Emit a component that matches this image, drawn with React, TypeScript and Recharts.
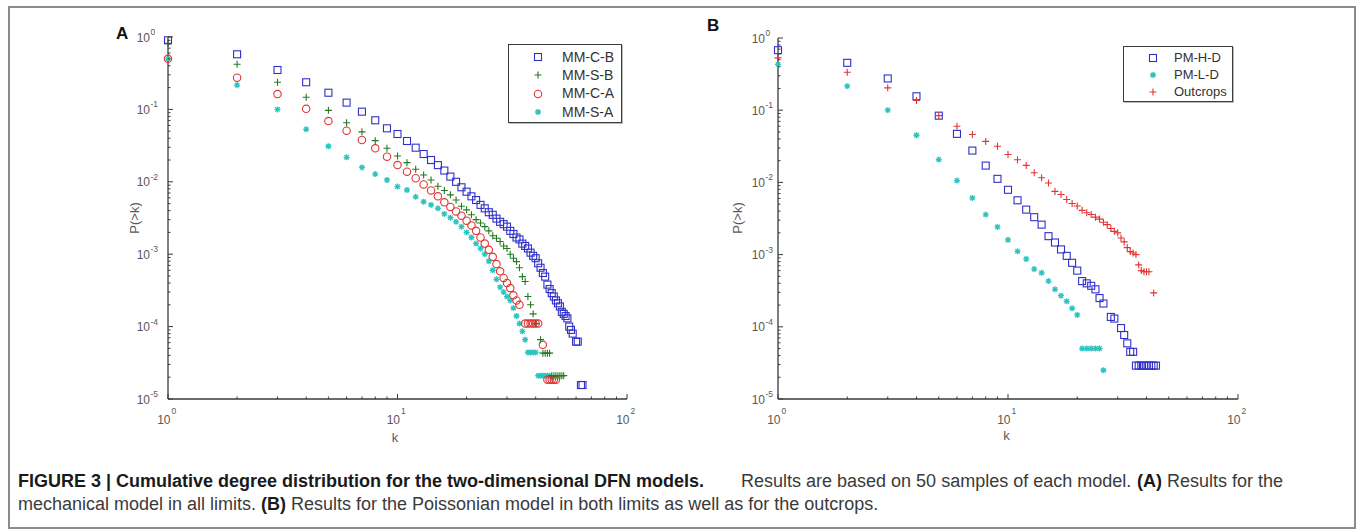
import React from 'react';
import { ScatterChart, Scatter, XAxis, YAxis } from 'recharts';

// ---------------- Panel A data (mechanical model) ----------------
const mmcbK = [1,2,3,4,5,6,7,8,9,10,11,12,13,14,15,16,17,18,19,20,21,22,23,24,25,26,27,28,29,30,31,32,33,34,35,36,37,38,39,40,41,42,43,44,45,46,47,48,49,50,51,52,53,54,55,56,57,58,60,61,63,64];
const mmcbP = [0.9,0.577,0.35,0.237,0.17,0.124,0.093,0.0707,0.0548,0.0457,
  0.0366,0.0296,0.0242,0.02,0.017,0.0143,0.0118,0.01,0.0084,0.0073,
  0.0063,0.0056,0.0048,0.0043,0.0038,0.0035,0.0031,0.0028,0.0026,0.0024,
  0.0021,0.0019,0.0017,0.0016,0.0014,0.0013,0.0012,0.00105,0.00095,0.00088,
  0.00075,0.00065,0.00055,0.00049,0.00038,0.00033,0.00029,0.00026,0.00023,0.00021,
  0.00019,0.00016,0.00015,0.00014,0.00013,0.0001,0.00009,0.00008,
  0.000062,0.000062,0.0000156,0.0000156];

const mmsbK = [1,2,3,4,5,6,7,8,9,10,11,12,13,14,15,16,17,18,19,20,21,22,23,24,25,26,27,28,29,30,31,32,33,34,35,36,37,38,39,40,42,43,44,45,46,47,48,49,50,51,52,53];
const mmsbP = [0.82,0.42,0.237,0.147,0.097,0.0655,0.049,0.037,0.029,0.0227,
  0.0184,0.0149,0.0124,0.0106,0.0087,0.0076,0.0066,0.0056,0.0046,0.0041,
  0.0035,0.003,0.0027,0.0024,0.0021,0.0018,0.00166,0.0015,0.0013,0.0012,
  0.001,0.00088,0.00079,0.00065,0.00049,0.00042,0.00026,0.0002,0.00015,0.00011,
  0.000066,0.000043,0.000043,0.000043,0.000043,
  0.000021,0.000021,0.000021,0.000021,0.000021,0.000021,0.000021];

const mmcaK = [1,2,3,4,5,6,7,8,9,10,11,12,13,14,15,16,17,18,19,20,21,22,23,24,25,26,27,28,29,30,31,32,33,34,36,37,38,39,40,41,43,45,46,47,48,49];
const mmcaP = [0.5,0.274,0.163,0.102,0.069,0.0508,0.0378,0.029,0.0222,0.017,
  0.0138,0.0112,0.0092,0.0076,0.0063,0.0052,0.0045,0.0039,0.0034,0.0029,
  0.0025,0.0021,0.0017,0.0014,0.00115,0.00092,0.00073,0.00058,0.00047,0.0004,
  0.00034,0.00027,0.00023,0.0002,
  0.00011,0.00011,0.00011,0.00011,0.00011,0.00011,
  0.000056,
  0.0000185,0.0000185,0.0000185,0.0000185,0.0000185];

const mmsaK = [1,2,3,4,5,6,7,8,9,10,11,12,13,14,15,16,17,18,19,20,21,22,23,24,25,26,27,28,29,30,31,32,33,34,35,36,37,38,39,40,41,42,43,44,45,46];
const mmsaP = [0.5,0.217,0.1,0.053,0.031,0.0218,0.0158,0.0128,0.0106,0.0086,
  0.0077,0.0062,0.0053,0.0048,0.0043,0.0036,0.0032,0.0028,0.0024,0.002,
  0.0017,0.0014,0.0012,0.001,0.0008,0.0006,0.00045,0.00035,0.0003,0.00026,
  0.00023,0.00018,0.00014,0.00011,0.000086,0.000066,
  0.000044,0.000044,0.000044,0.000044,
  0.000021,0.000021,0.000021,0.000021,0.000021,0.000021];

// ---------------- Panel B data (Poissonian model, outcrops) ----------------
const pmhdK = [1,2,3,4,5,6,7,8,9,10,11,12,13,14,15,16,17,18,19,20,21,22,23,24,25,26,28,29,31,32,33,34,35,36,37,38,39,40,41,42,43,44];
const pmhdP = [0.678,0.453,0.275,0.156,0.084,0.047,0.0276,0.0171,0.0112,0.0079,
  0.00565,0.0042,0.0033,0.0026,0.0018,0.00147,0.00118,0.00096,0.00077,0.0006,
  0.00043,0.0004,0.00037,0.00033,0.00025,0.00021,
  0.000137,0.00013,
  0.000096,0.000077,0.000059,0.000045,0.000045,
  0.000029,0.000029,0.000029,0.000029,0.000029,0.000029,0.000029,0.000029,0.000029];

const pmldK = [1,2,3,4,5,6,7,8,9,10,11,12,13,14,15,16,17,18,19,20,21,22,23,24,25,26];
const pmldP = [0.43,0.215,0.1,0.045,0.0207,0.0106,0.0061,0.00358,0.00242,0.0016,
  0.00111,0.00087,0.00063,0.00056,0.00043,0.00033,0.00027,0.000225,0.00018,0.000146,
  0.00005,0.00005,0.00005,0.00005,0.00005,
  0.000025];

const outK = [1,2,3,4,5,6,7,8,9,10,11,12,13,14,15,16,17,18,19,20,21,22,23,24,25,26,27,28,29,30,31,32,33,34,35,36,37,38,39,40,41,43];
const outP = [0.53,0.336,0.204,0.136,0.084,0.06,0.046,0.037,0.0316,0.0243,
  0.0206,0.0172,0.0136,0.0116,0.0098,0.0075,0.0068,0.0058,0.0051,0.0047,
  0.0041,0.0038,0.0036,0.0033,0.0031,0.0028,0.0026,0.0023,0.0021,0.002,
  0.0017,0.0015,0.00125,0.0011,0.00105,0.001,0.00072,0.0006,0.00058,0.00058,
  0.00058,0.000295];

// ---------------- axis ticks ----------------
const X_MAJOR = [1, 10, 100];
const Y_MAJOR = [0.00001, 0.0001, 0.001, 0.01, 0.1, 1];
const MINOR_MULT = [2, 3, 4, 5, 6, 7, 8, 9];
const withMinor = (majors: number[]) => {
  const out: number[] = [];
  majors.forEach((m, i) => {
    out.push(m);
    if (i < majors.length - 1) MINOR_MULT.forEach((f) => out.push(+(m * f).toPrecision(6)));
  });
  return out;
};
const X_TICKS = withMinor(X_MAJOR);
const Y_TICKS = withMinor(Y_MAJOR);

// ---------------- styles ----------------
const FONT = "Arial, 'Liberation Sans', Helvetica, sans-serif";
const AXIS = '#3a3a3a';
const TICK_TEXT = '#585858';
const BLUE = '#3030c8';
const GREEN = '#237a23';
const RED = '#e23434';
const CYAN = '#2cc4c0';

const rows = (ks: number[], ps: number[]) => ks.map((k, i) => ({ k, p: ps[i] }));

// ---------------- markers ----------------
const Square = ({ cx, cy, color }: any) => (
  <rect x={cx - 3.5} y={cy - 3.5} width={7} height={7} fill="none" stroke={color} strokeWidth={1.1} />
);
const Plus = ({ cx, cy, color }: any) => (
  <path d={`M${cx - 3.5},${cy}H${cx + 3.5}M${cx},${cy - 3.5}V${cy + 3.5}`} stroke={color} strokeWidth={1.1} fill="none" />
);
const Circ = ({ cx, cy, color }: any) => (
  <circle cx={cx} cy={cy} r={3.7} fill="none" stroke={color} strokeWidth={1.1} />
);
const Star = ({ cx, cy, color }: any) => (
  <path
    d={`M${cx - 3},${cy}H${cx + 3}M${cx},${cy - 3}V${cy + 3}M${cx - 2.2},${cy - 2.2}L${cx + 2.2},${cy + 2.2}M${cx - 2.2},${cy + 2.2}L${cx + 2.2},${cy - 2.2}`}
    stroke={color}
    strokeWidth={1.3}
    fill="none"
  />
);
const MARKERS: Record<string, any> = { square: Square, plus: Plus, circle: Circ, star: Star };

type Series = { name: string; data: { k: number; p: number }[]; color: string; marker: string };

const seriesA: Series[] = [
  { name: 'MM-C-B', data: rows(mmcbK, mmcbP), color: BLUE, marker: 'square' },
  { name: 'MM-S-B', data: rows(mmsbK, mmsbP), color: GREEN, marker: 'plus' },
  { name: 'MM-C-A', data: rows(mmcaK, mmcaP), color: RED, marker: 'circle' },
  { name: 'MM-S-A', data: rows(mmsaK, mmsaP), color: CYAN, marker: 'star' },
];
const seriesB: Series[] = [
  { name: 'PM-H-D', data: rows(pmhdK, pmhdP), color: BLUE, marker: 'square' },
  { name: 'PM-L-D', data: rows(pmldK, pmldP), color: CYAN, marker: 'star' },
  { name: 'Outcrops', data: rows(outK, outP), color: RED, marker: 'plus' },
];
const drawOrderA = ['MM-S-A', 'MM-C-A', 'MM-S-B', 'MM-C-B'];
const drawOrderB = ['PM-L-D', 'PM-H-D', 'Outcrops'];

const isMajor = (v: number) => {
  const lg = Math.log10(v);
  return Math.abs(lg - Math.round(lg)) < 1e-6;
};

const makeYTick = (gap: number) => (props: any) => {
  const { x, y, payload } = props;
  const v = payload.value;
  const major = isMajor(v);
  const e = Math.round(Math.log10(v));
  return (
    <g>
      <line x1={x} x2={x + (major ? 5 : 2.5)} y1={y} y2={y} stroke={AXIS} strokeWidth={1} />
      {major && (
        <text x={x - gap} y={y + 4.5} textAnchor="end" fontSize={12} fill={TICK_TEXT} fontFamily={FONT}>
          10
        </text>
      )}
      {major && (
        <text x={x - gap + 0.5} y={y - 2} fontSize={8.5} fill={TICK_TEXT} fontFamily={FONT}>
          {e}
        </text>
      )}
    </g>
  );
};

const renderXTick = (props: any) => {
  const { x, y, payload } = props;
  const v = payload.value;
  const major = isMajor(v);
  const e = Math.round(Math.log10(v));
  return (
    <g>
      <line x1={x} x2={x} y1={y} y2={y - (major ? 5 : 2.5)} stroke={AXIS} strokeWidth={1} />
      {major && (
        <text x={x + 2.5} y={y + 25} textAnchor="end" fontSize={12} fill={TICK_TEXT} fontFamily={FONT}>
          10
        </text>
      )}
      {major && (
        <text x={x + 3.5} y={y + 15} fontSize={8.5} fill={TICK_TEXT} fontFamily={FONT}>
          {e}
        </text>
      )}
    </g>
  );
};

function Panel({ left, margin, series, order, yGap }: any) {
  const ordered = order.map((n: string) => series.find((s: Series) => s.name === n));
  return (
    <div style={{ position: 'absolute', left, top: 0 }}>
      <ScatterChart width={680} height={532} margin={margin}>
        <XAxis
          type="number"
          dataKey="k"
          scale="log"
          domain={[1, 100]}
          ticks={X_TICKS}
          interval={0}
          tickLine={false}
          tickSize={0}
          tickMargin={0}
          height={30}
          axisLine={{ stroke: AXIS, strokeWidth: 1.3 }}
          tick={renderXTick}
        />
        <YAxis
          type="number"
          dataKey="p"
          scale="log"
          domain={[0.00001, 1]}
          ticks={Y_TICKS}
          interval={0}
          tickLine={false}
          tickSize={0}
          tickMargin={0}
          width={60}
          axisLine={{ stroke: AXIS, strokeWidth: 1.3 }}
          tick={makeYTick(yGap)}
        />
        {ordered.map((s: Series) => {
          const M = MARKERS[s.marker];
          return (
            <Scatter
              key={s.name}
              name={s.name}
              data={s.data}
              isAnimationActive={false}
              shape={(p: any) => <M cx={p.cx} cy={p.cy} color={s.color} />}
            />
          );
        })}
      </ScatterChart>
    </div>
  );
}

function LegendBox({ left, top, width, height, series, rowY, markerX, textX, fontSize }: any) {
  return (
    <div
      style={{
        position: 'absolute',
        left,
        top,
        width,
        height,
        border: '1px solid #3c3c3c',
        background: '#fff',
        boxSizing: 'border-box',
        boxShadow: '1px 1px 0 #bbb',
      }}
    >
      {series.map((s: Series, i: number) => {
        const M = MARKERS[s.marker];
        return (
          <React.Fragment key={s.name}>
            <svg style={{ position: 'absolute', left: markerX - 6, top: rowY[i] - 6 }} width={12} height={12}>
              <M cx={6} cy={6} color={s.color} />
            </svg>
            <div
              style={{
                position: 'absolute',
                left: textX,
                top: rowY[i] - fontSize * 0.6,
                fontSize,
                lineHeight: `${fontSize * 1.2}px`,
                fontFamily: FONT,
                color: '#333',
                whiteSpace: 'nowrap',
              }}
            >
              {s.name}
            </div>
          </React.Fragment>
        );
      })}
    </div>
  );
}

const CAP_FONT = "Arial, 'Liberation Sans', Helvetica, sans-serif";

export default function App() {
  return (
    <div
      style={{
        position: 'absolute',
        left: 0,
        top: 0,
        width: 1360,
        height: 532,
        background: '#fff',
        overflow: 'hidden',
        fontFamily: FONT,
      }}
    >
      <div
        style={{
          position: 'absolute',
          left: 8,
          top: 6,
          width: 1348,
          height: 523,
          border: '2px solid #8c8c8c',
          boxSizing: 'border-box',
        }}
      />
      <Panel left={0} margin={{ top: 37, right: 53, bottom: 103, left: 108 }} series={seriesA} order={drawOrderA} yGap={18} />
      <Panel left={680} margin={{ top: 38, right: 122, bottom: 103, left: 38 }} series={seriesB} order={drawOrderB} yGap={13} />

      <LegendBox left={508} top={44} width={114} height={79} series={seriesA} rowY={[12, 30.3, 48.7, 67]} markerX={28.5} textX={53} fontSize={14} />
      <LegendBox left={1123} top={46} width={110} height={56} series={seriesB} rowY={[10.7, 27.5, 45]} markerX={29} textX={50} fontSize={13} />

      <svg style={{ position: 'absolute', left: 0, top: 0 }} width={1360} height={532}>
        <text x={116} y={38.5} fontSize={17} fontWeight="bold" fill="#111" fontFamily={FONT}>A</text>
        <text x={707} y={31} fontSize={17} fontWeight="bold" fill="#111" fontFamily={FONT}>B</text>

        <text x={0} y={0} transform="translate(138.5,218) rotate(-90)" textAnchor="middle" fontSize={13} fill={TICK_TEXT} fontFamily={FONT}>P(&gt;k)</text>
        <text x={0} y={0} transform="translate(742,218) rotate(-90)" textAnchor="middle" fontSize={13} fill={TICK_TEXT} fontFamily={FONT}>P(&gt;k)</text>
        <text x={395} y={441.5} textAnchor="middle" fontSize={13} fill={TICK_TEXT} fontFamily={FONT}>k</text>
        <text x={1006.5} y={440} textAnchor="middle" fontSize={13} fill={TICK_TEXT} fontFamily={FONT}>k</text>

        <g fontFamily={CAP_FONT} fontSize={18}>
          <text x={18} y={487} fontWeight="bold" fill="#1a1a1a">
            FIGURE 3 | Cumulative degree distribution for the two-dimensional DFN models.
          </text>
          <text x={741} y={487} fill="#3a3a3a">
            Results are based on 50 samples of each model.
          </text>
          <text x={1137} y={487} fontWeight="bold" fill="#1a1a1a">
            (A)
          </text>
          <text x={1167} y={487} fill="#3a3a3a">
            Results for the
          </text>
          <text x={18} y={510} fill="#3a3a3a">
            mechanical model in all limits.
          </text>
          <text x={261} y={510} fontWeight="bold" fill="#1a1a1a">
            (B)
          </text>
          <text x={291} y={510} fill="#3a3a3a">
            Results for the Poissonian model in both limits as well as for the outcrops.
          </text>
        </g>
      </svg>
    </div>
  );
}
